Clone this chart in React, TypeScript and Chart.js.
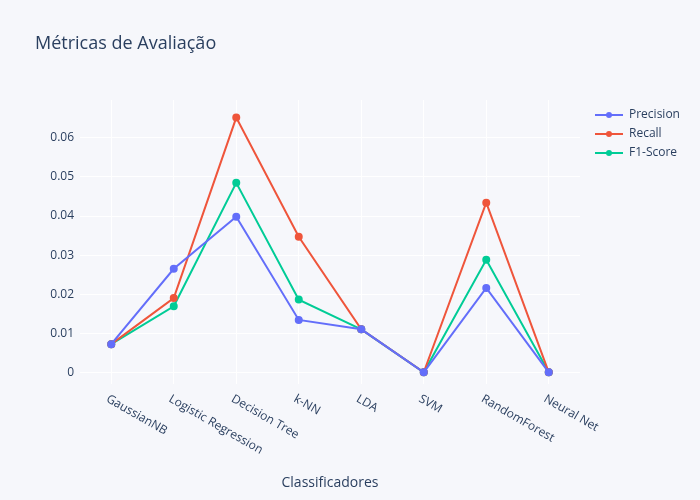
import { useEffect, useRef } from 'react';
import { Chart, registerables } from 'chart.js';

Chart.register(...registerables);

const classifiers = ['GaussianNB', 'Logistic Regression', 'Decision Tree', 'k-NN', 'LDA', 'SVM', 'RandomForest', 'Neural Net'];
const precision = [0.0072, 0.0265, 0.0398, 0.0134, 0.011, 0, 0.0216, 0];
const recall = [0.0072, 0.019, 0.0652, 0.0347, 0.011, 0, 0.0434, 0];
const f1Score = [0.0072, 0.0169, 0.0485, 0.0186, 0.011, 0, 0.0288, 0];
const yTicks = [0, 0.01, 0.02, 0.03, 0.04, 0.05, 0.06];

const FONT = '"Open Sans", "DejaVu Sans", sans-serif';
const TEXT = '#2a3f5f';
const BG = '#f6f7fb';

const decorations = {
    id: 'decorations',
    beforeDraw(chart: Chart) {
        const { ctx, width, height } = chart;
        ctx.save();
        ctx.fillStyle = BG;
        ctx.fillRect(0, 0, width, height);
        ctx.restore();
    },
    afterDraw(chart: Chart) {
        const { ctx, chartArea } = chart;
        const xs = chart.scales.x;
        ctx.save();
        ctx.fillStyle = TEXT;
        ctx.font = `18px ${FONT}`;
        ctx.textBaseline = 'middle';
        ctx.fillText('Métricas de Avaliação', 35, 44);

        // rotated category labels
        ctx.font = `12px ${FONT}`;
        classifiers.forEach((c, i) => {
            const x = xs.getPixelForValue(i);
            ctx.save();
            ctx.translate(x - 4, chartArea.bottom + 14);
            ctx.rotate(Math.PI / 6);
            ctx.textAlign = 'left';
            ctx.fillText(c, 0, 0);
            ctx.restore();
        });

        ctx.font = `14px ${FONT}`;
        ctx.textAlign = 'center';
        ctx.fillText('Classificadores', (chartArea.left + chartArea.right) / 2, 483);

        // legend
        ctx.font = `12px ${FONT}`;
        ctx.textAlign = 'left';
        chart.data.datasets.forEach((ds: any, i: number) => {
            const y = 115 + i * 19;
            ctx.strokeStyle = ds.borderColor;
            ctx.fillStyle = ds.borderColor;
            ctx.lineWidth = 2;
            ctx.beginPath();
            ctx.moveTo(595, y);
            ctx.lineTo(623, y);
            ctx.stroke();
            ctx.beginPath();
            ctx.arc(609, y, 3, 0, Math.PI * 2);
            ctx.fill();
            ctx.fillStyle = TEXT;
            ctx.fillText(ds.label, 629, y);
        });
        ctx.restore();
    },
};

export default function App() {
    const chartRef = useRef<HTMLCanvasElement>(null);

    useEffect(() => {
        document.body.style.margin = '0';
        if (!chartRef.current) return;
        const mk = (label: string, data: number[], color: string) => ({
            label,
            data,
            borderColor: color,
            backgroundColor: color,
            borderWidth: 2,
            pointRadius: 3,
            pointHoverRadius: 3,
            tension: 0,
        });
        const chart = new Chart(chartRef.current, {
            type: 'line',
            data: {
                labels: classifiers,
                datasets: [
                    mk('Precision', precision, '#636efa'),
                    mk('Recall', recall, '#EF553B'),
                    mk('F1-Score', f1Score, '#00cc96'),
                ],
            },
            options: {
                animation: false,
                responsive: false,
                layout: { padding: { top: 100, right: 120, left: 0, bottom: 0 } },
                plugins: { legend: { display: false }, tooltip: { enabled: false } },
                scales: {
                    x: {
                        offset: true,
                        grid: { color: '#ffffff', lineWidth: 1, offset: false, drawTicks: false },
                        border: { display: false },
                        ticks: { display: false },
                        afterFit: (s: any) => { s.height = 116; },
                    },
                    y: {
                        min: -0.003,
                        max: 0.0697,
                        afterBuildTicks: (s: any) => { s.ticks = yTicks.map((v) => ({ value: v })); },
                        grid: { color: '#ffffff', lineWidth: 1, drawTicks: false },
                        border: { display: false },
                        ticks: {
                            color: TEXT,
                            font: { family: FONT, size: 12 },
                            padding: 6,
                            callback: (v: any) => (v === 0 ? '0' : Number(v).toFixed(2)),
                        },
                        afterFit: (s: any) => { s.width = 80; },
                    },
                },
            },
            plugins: [decorations],
        });
        return () => chart.destroy();
    }, []);

    return <canvas ref={chartRef} width={700} height={500} style={{ display: 'block' }} />;
}
